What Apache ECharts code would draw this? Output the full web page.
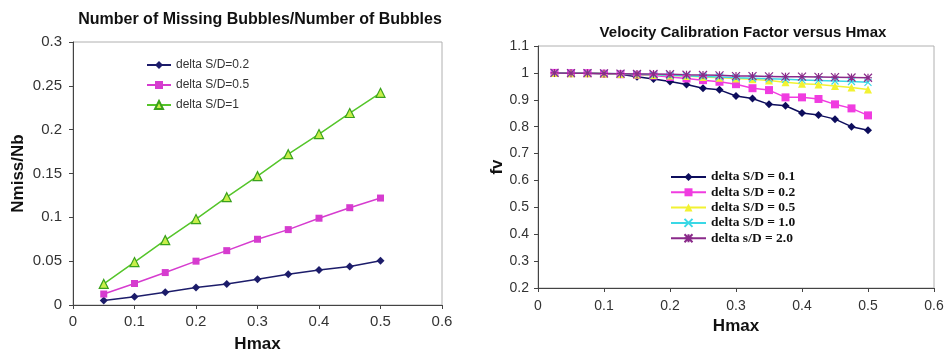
<!DOCTYPE html>
<html>
<head>
<meta charset="utf-8">
<script src="https://cdn.jsdelivr.net/npm/echarts@6/dist/echarts.min.js"></script>
<style>
  html, body { margin: 0; padding: 0; background: #fff; }
  #chart { width: 945px; height: 351px; }
</style>
</head>
<body>
<div id="chart"></div>
<script>
// left chart: Nmiss/Nb vs Hmax
const hmaxLeft = [0.05, 0.1, 0.15, 0.2, 0.25, 0.3, 0.35, 0.4, 0.45, 0.5];
const missSD02 = [0.005, 0.0095, 0.0145, 0.02, 0.024, 0.0295, 0.035, 0.04, 0.044, 0.0505];
const missSD05 = [0.0125, 0.0245, 0.037, 0.05, 0.062, 0.075, 0.086, 0.099, 0.111, 0.122];
const missSD1 = [0.024, 0.049, 0.074, 0.098, 0.123, 0.147, 0.172, 0.195, 0.219, 0.242];

// right chart: fv vs Hmax
const hmaxRight = [0.025, 0.05, 0.075, 0.1, 0.125, 0.15, 0.175, 0.2, 0.225, 0.25,
  0.275, 0.3, 0.325, 0.35, 0.375, 0.4, 0.425, 0.45, 0.475, 0.5];
const fvSD01 = [1.0, 0.999, 0.999, 0.997, 0.995, 0.986, 0.977, 0.968, 0.957, 0.943,
  0.937, 0.914, 0.905, 0.883, 0.878, 0.851, 0.843, 0.828, 0.8, 0.787];
const fvSD02 = [1.0, 0.999, 0.999, 0.997, 0.995, 0.993, 0.99, 0.985, 0.979, 0.973,
  0.967, 0.958, 0.943, 0.936, 0.909, 0.909, 0.903, 0.883, 0.868, 0.842];
const fvSD05 = [1.0, 0.999, 0.999, 0.998, 0.996, 0.994, 0.992, 0.99, 0.988, 0.985,
  0.982, 0.979, 0.976, 0.972, 0.965, 0.96, 0.957, 0.951, 0.946, 0.938];
const fvSD10 = [1.0, 0.999, 0.999, 0.998, 0.997, 0.995, 0.993, 0.991, 0.989, 0.987,
  0.985, 0.982, 0.98, 0.978, 0.976, 0.974, 0.972, 0.97, 0.968, 0.965];
const fvSD20 = [1.0, 0.999, 0.999, 0.998, 0.997, 0.996, 0.996, 0.995, 0.993, 0.992,
  0.991, 0.988, 0.988, 0.987, 0.986, 0.986, 0.985, 0.984, 0.983, 0.982];

const leftNames = ["delta S/D=0.2", "delta S/D=0.5", "delta S/D=1"];
const rightNames = ["delta S/D = 0.1", "delta S/D = 0.2", "delta S/D = 0.5", "delta S/D = 1.0", "delta s/D = 2.0"];

const pair = (xs, ys) => xs.map((x, i) => [x, ys[i]]);
const fmt = v => String(+v.toFixed(2));
const sans = "Liberation Sans, Arial, sans-serif";

function axisX(gridIndex, labelSize, margin, nameGap) {
  return {
    gridIndex, type: "value", min: 0, max: 0.6, interval: 0.1,
    name: "Hmax", nameLocation: "middle", nameGap,
    nameTextStyle: { fontFamily: sans, fontWeight: "bold", fontSize: 17, color: "#111" },
    axisLine: { lineStyle: { color: "#444", width: 1 } },
    axisTick: { show: true, length: 4, lineStyle: { color: "#444" } },
    axisLabel: { fontFamily: sans, fontSize: labelSize, color: "#333", margin, formatter: fmt },
    splitLine: { show: false }
  };
}

function axisY(gridIndex, min, max, interval, name, nameGap, labelSize, margin) {
  return {
    gridIndex, type: "value", min, max, interval,
    name, nameLocation: "middle", nameGap,
    nameTextStyle: { fontFamily: sans, fontWeight: "bold", fontSize: 17, color: "#111" },
    axisLine: { show: true, lineStyle: { color: "#444", width: 1 } },
    axisTick: { show: true, length: 4, lineStyle: { color: "#444" } },
    axisLabel: { fontFamily: sans, fontSize: labelSize, color: "#333", margin, formatter: fmt },
    splitLine: { show: false }
  };
}

function line(name, xi, data, color, symbol, size, fill, border) {
  return {
    name, type: "line", xAxisIndex: xi, yAxisIndex: xi,
    data, symbol, symbolSize: size, showSymbol: true,
    lineStyle: { color, width: 1.5 },
    itemStyle: { color: fill || color, borderColor: border || color, borderWidth: border ? 1.2 : 0 },
    emphasis: { disabled: true },
    z: 3
  };
}

const crossPath = "path://M0,0L10,10M10,0L0,10";
const starPath = "path://M0,0L10,10M10,0L0,10M5,0L5,10M0,5L10,5";

const chart = echarts.init(document.getElementById("chart"));
chart.setOption({
  backgroundColor: "#fff",
  animation: false,
  title: [
    {
      text: "Number of Missing Bubbles/Number of Bubbles",
      left: 255, top: 7, textAlign: "center",
      textStyle: { fontFamily: sans, fontWeight: "bold", fontSize: 16, color: "#111" }
    },
    {
      text: "Velocity Calibration Factor versus Hmax",
      left: 738, top: 20, textAlign: "center",
      textStyle: { fontFamily: sans, fontWeight: "bold", fontSize: 15, color: "#111" }
    }
  ],
  grid: [
    { left: 73, top: 42, width: 369, height: 263, outerBoundsMode: "none", show: true, borderColor: "#b0b0b0", borderWidth: 1 },
    { left: 538, top: 46, width: 396, height: 242, outerBoundsMode: "none", show: true, borderColor: "#b0b0b0", borderWidth: 1 }
  ],
  xAxis: [axisX(0, 15, 9, 31), axisX(1, 14, 11, 27)],
  yAxis: [
    axisY(0, 0, 0.3, 0.05, "Nmiss/Nb", 46, 15, 11),
    axisY(1, 0.2, 1.1, 0.1, "fv", 29, 14, 9)
  ],
  legend: [
    {
      data: leftNames, left: 141, top: 53, orient: "vertical",
      itemWidth: 24, itemHeight: 10, itemGap: 6,
      textStyle: { fontFamily: sans, fontSize: 12, color: "#333", lineHeight: 14 }
    },
    {
      data: rightNames, left: 665, top: 165, orient: "vertical",
      itemWidth: 35, itemHeight: 10, itemGap: 1.3,
      textStyle: { fontFamily: "Liberation Serif, Times New Roman, serif", fontWeight: "bold", fontSize: 13.5, color: "#111", lineHeight: 14 }
    }
  ],
  series: [
    line(leftNames[0], 0, pair(hmaxLeft, missSD02), "#1c1c6a", "diamond", 8),
    line(leftNames[1], 0, pair(hmaxLeft, missSD05), "#d63ccf", "rect", 7),
    line(leftNames[2], 0, pair(hmaxLeft, missSD1), "#55c52a", "triangle", 9, "#c8ef4a", "#3aa11c"),
    line(rightNames[0], 1, pair(hmaxRight, fvSD01), "#0d0d5c", "diamond", 8),
    line(rightNames[1], 1, pair(hmaxRight, fvSD02), "#f03ce0", "rect", 8),
    line(rightNames[2], 1, pair(hmaxRight, fvSD05), "#f2f232", "triangle", 8),
    line(rightNames[3], 1, pair(hmaxRight, fvSD10), "#3ad8e6", crossPath, 7, "#3ad8e6", "#3ad8e6"),
    line(rightNames[4], 1, pair(hmaxRight, fvSD20), "#8a2a8a", starPath, 8, "#8a2a8a", "#8a2a8a")
  ]
});
</script>
</body>
</html>
